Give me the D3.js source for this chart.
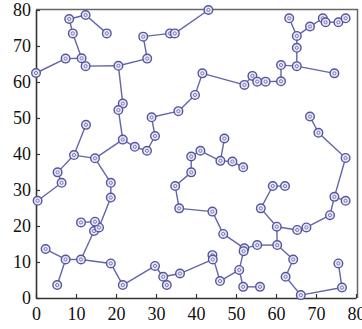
<!DOCTYPE html>
<html><head><meta charset="utf-8">
<script src="https://cdn.jsdelivr.net/npm/d3@7"></script>
<style>html,body{margin:0;padding:0;background:#fff;}svg{display:block;}</style>
</head><body>
<script>
const nodeX = [0,7.4,11.4,12.4,9.2,8.3,12.4,17.7,20.6,27.8,26.8,33.5,34.7,43.1,21.7,20.6,21.7,24.7,27.75,29.75,28.9,35.6,39.75,41.6,52.1,54.1,55.3,57.4,61.25,61.25,65.2,74.6,65.2,65.2,63.3,68.5,71.7,72.4,75.6,77.4,68.5,70.6,77.4,74.6,77.4,73.5,67.6,65.3,60.2,60.3,55.3,52.1,64.3,62.4,66.2,76.5,75.6,56.2,59.2,62.25,46.8,44.1,35.8,34.8,38.8,38.8,41.1,46.1,47.1,49.1,51.8,50.8,51.8,56,46,44.1,44.2,36,31.8,32.7,29.75,21.7,18.7,11.25,7.4,2.4,5.3,14.5,15.75,14.75,11.25,18.7,18.7,14.75,9.5,12.5,5.4,6.4,0.4,51.9];
const nodeY = [62.5,66.5,66.6,64.4,73.5,77.5,78.6,73.5,64.5,66.5,72.6,73.5,73.5,80,54,52.2,44,42,40.9,45,50.2,51.9,56.4,62.4,59.2,61.7,60.1,60.1,60.2,64.7,64.4,62.4,69.5,72.8,77.7,75.4,77.7,76.6,76.6,77.7,50.4,45.9,38.9,28.1,27,23,19.6,18.9,19.8,14.7,14.7,13.8,10.7,5.9,0.8,2.9,9.6,24.9,31.1,31.1,17.8,24,24.9,31.1,34.9,39.3,40.9,38.1,44.3,37.9,36.3,7.8,3.1,3.1,4.7,11.9,10.7,6.8,5.9,3.6,8.9,3.6,9.6,10.7,10.7,13.6,3.6,18.6,19.6,21.2,21,27.9,32,38.8,39.7,48.1,34.9,32,27,13.0];
const edgeFrom = [0,1,2,2,4,5,6,3,8,9,10,11,12,8,14,15,16,17,18,19,20,21,22,23,24,25,26,27,28,29,30,30,32,33,33,35,36,37,38,40,41,42,43,43,45,46,47,48,49,50,49,52,53,54,55,48,57,58,51,60,61,62,63,64,65,66,67,67,69,51,99,71,72,71,74,75,76,77,78,78,80,81,82,83,84,84,83,87,88,89,88,91,92,93,94,94,96,97,93];
const edgeTo   = [1,2,3,4,5,6,7,8,9,10,11,12,13,14,15,16,17,18,19,20,21,22,23,24,25,26,27,28,29,30,31,32,33,34,35,36,37,38,39,41,42,43,44,45,46,47,48,49,50,51,52,53,54,55,56,57,58,59,60,61,62,63,64,65,66,67,68,69,70,99,71,72,73,74,75,76,77,78,79,80,81,82,83,84,85,86,87,88,89,90,91,92,93,94,95,96,97,98,16];
const xTicks = [0,10,20,30,40,50,60,70,80];
const yTicks = [0,10,20,30,40,50,60,70,80];

const W = 362, H = 329;
const svg = d3.select("body").append("svg").attr("width", W).attr("height", H);
const x = d3.scaleLinear().domain([0,80]).range([36,356]);
const y = d3.scaleLinear().domain([0,80]).range([298,10]);

// frame
svg.append("line").attr("x1",36).attr("x2",358).attr("y1",9.5).attr("y2",9.5).attr("stroke","#666").attr("stroke-width",1.5);
svg.append("line").attr("x1",357.5).attr("x2",357.5).attr("y1",9).attr("y2",298).attr("stroke","#666").attr("stroke-width",1.5);

const font = "'Liberation Serif','Times New Roman',serif";
const xAxis = d3.axisBottom(x).tickValues(xTicks).tickSizeInner(-4).tickSizeOuter(0).tickPadding(9).tickFormat(d3.format("d"));
const gx = svg.append("g").attr("transform","translate(0,298)").call(xAxis);
const yAxis = d3.axisLeft(y).tickValues(yTicks).tickSizeInner(-4).tickSizeOuter(0).tickPadding(5).tickFormat(d3.format("d"));
const gy = svg.append("g").attr("transform","translate(36,0)").call(yAxis);
[gx,gy].forEach(g=>{
  g.select(".domain").attr("stroke","#333").attr("stroke-width",1.6);
  g.selectAll(".tick line").attr("stroke","#333").attr("stroke-width",1.2);
  g.selectAll(".tick text").attr("font-family",font).attr("font-size",18).attr("fill","#111");
});

// edges
svg.append("g").selectAll("line").data(edgeFrom.map((f,i)=>[f,edgeTo[i]])).join("line")
  .attr("x1",d=>x(nodeX[d[0]])).attr("y1",d=>y(nodeY[d[0]]))
  .attr("x2",d=>x(nodeX[d[1]])).attr("y2",d=>y(nodeY[d[1]]))
  .attr("stroke","#6464aa").attr("stroke-width",1.4);

// nodes
const ng = svg.append("g").selectAll("g").data(nodeX.map((v,i)=>i)).join("g")
  .attr("transform",i=>`translate(${x(nodeX[i])},${y(nodeY[i])})`);
ng.append("circle").attr("r",4.3).attr("fill","#e8e8f8").attr("stroke","#55559e").attr("stroke-width",1.4);
ng.append("circle").attr("r",1.6).attr("fill","none").attr("stroke","#7070b0").attr("stroke-width",0.9);
</script>
</body></html>
